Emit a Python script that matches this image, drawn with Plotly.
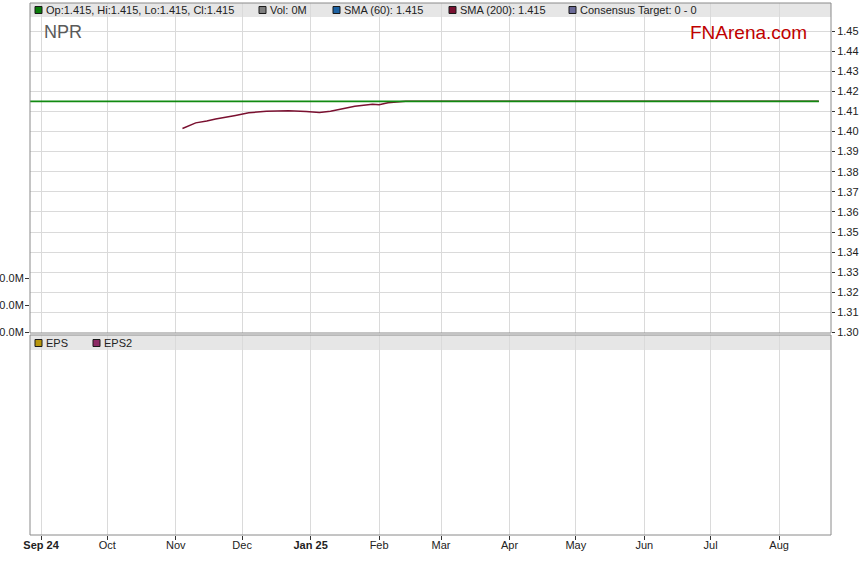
import plotly.graph_objects as go

# ---------------- data ----------------
close_dates = ["2024-08-27", "2025-08-19"]
close_values = [1.415, 1.415]

sma200_dates = ["2024-11-04", "2024-11-10", "2024-11-15", "2024-11-19", "2024-11-28",
                "2024-12-04", "2024-12-12", "2024-12-22", "2024-12-30", "2025-01-05",
                "2025-01-10", "2025-01-15", "2025-01-21", "2025-01-29", "2025-02-01",
                "2025-02-05", "2025-02-13", "2025-08-19"]
sma200_values = [1.4015, 1.4043, 1.4052, 1.4062, 1.4080,
                 1.4093, 1.4101, 1.4103, 1.4100, 1.4095,
                 1.4101, 1.4111, 1.4126, 1.4135, 1.4133,
                 1.4143, 1.4150, 1.4150]

volume_dates = []
volume_values = []
eps_dates = []
eps_values = []
eps2_dates = []
eps2_values = []

month_ticks = ["2024-09-01", "2024-10-01", "2024-11-01", "2024-12-01", "2025-01-01",
               "2025-02-01", "2025-03-01", "2025-04-01", "2025-05-01", "2025-06-01",
               "2025-07-01", "2025-08-01"]
month_labels = ["<b>Sep 24</b>", "Oct", "Nov", "Dec", "<b>Jan 25</b>", "Feb", "Mar",
                "Apr", "May", "Jun", "Jul", "Aug"]

price_ticks = [1.30, 1.31, 1.32, 1.33, 1.34, 1.35, 1.36, 1.37, 1.38, 1.39,
               1.40, 1.41, 1.42, 1.43, 1.44, 1.45]
volume_ticks = [0, 50e6, 100e6]
volume_labels = ["0.0M", "50.0M", "100.0M"]

legend_top = [("Op:1.415, Hi:1.415, Lo:1.415, Cl:1.415", "#0b7d0b", 35),
              ("Vol: 0M", "#7f7f7f", 259),
              ("SMA (60): 1.415", "#1d62a3", 333),
              ("SMA (200): 1.415", "#7a1030", 449),
              ("Consensus Target: 0 - 0", "#6a6a98", 569)]
legend_bottom = [("EPS", "#b8960c", 35), ("EPS2", "#8c2a64", 93)]

# ---------------- geometry helpers ----------------
W, H = 859, 566
L, R, T, B = 30, 28, 3, 31
PW = W - L - R
PH = H - T - B


def px(x):
    return (x - L) / PW


def py(y):
    return (H - B - y) / PH


top_dom = [py(333), 1.0]
bot_dom = [0.0, py(335)]

FONT = "Liberation Sans, Arial, sans-serif"
GRID = "#dadada"
BORDER = "#8a8a8a"

fig = go.Figure()

fig.add_trace(go.Bar(x=volume_dates, y=volume_values, marker_color="#7f7f7f",
                     xaxis="x", yaxis="y3", hoverinfo="skip"))
fig.add_trace(go.Scatter(x=sma200_dates, y=sma200_values, mode="lines",
                         line=dict(color="#7a1030", width=1.5), xaxis="x", yaxis="y",
                         hoverinfo="skip"))
fig.add_trace(go.Scatter(x=close_dates, y=close_values, mode="lines",
                         line=dict(color="#118a11", width=1.6), xaxis="x", yaxis="y",
                         hoverinfo="skip"))
fig.add_trace(go.Scatter(x=eps_dates, y=eps_values, mode="lines",
                         line=dict(color="#b8960c"), xaxis="x2", yaxis="y2"))
fig.add_trace(go.Scatter(x=eps2_dates, y=eps2_values, mode="lines",
                         line=dict(color="#8c2a64"), xaxis="x2", yaxis="y2"))

xrange = ["2024-08-27 00:00", "2025-08-24 12:00"]

shapes = []
annotations = []

# legend strips
shapes.append(dict(type="rect", xref="paper", yref="paper", x0=0, x1=1, y0=py(17), y1=py(3),
                   fillcolor="#e6e6e6", line=dict(width=0), layer="below"))
shapes.append(dict(type="rect", xref="paper", yref="paper", x0=0, x1=1, y0=py(350), y1=py(335),
                   fillcolor="#e6e6e6", line=dict(width=0), layer="below"))
# borders
shapes.append(dict(type="rect", xref="paper", yref="paper", x0=0, x1=1, y0=py(333), y1=py(3),
                   line=dict(color=BORDER, width=1), fillcolor="rgba(0,0,0,0)", layer="above"))
shapes.append(dict(type="rect", xref="paper", yref="paper", x0=0, x1=1, y0=py(535), y1=py(335),
                   line=dict(color=BORDER, width=1), fillcolor="rgba(0,0,0,0)", layer="above"))


def legend_items(items, yc):
    for text, color, x0 in items:
        shapes.append(dict(type="rect", xref="paper", yref="paper",
                           x0=px(x0), x1=px(x0 + 7), y0=py(yc + 3.5), y1=py(yc - 3.5),
                           fillcolor=color, line=dict(color="#1a1a1a", width=1), layer="above"))
        annotations.append(dict(text=text, xref="paper", yref="paper", x=px(x0 + 9), y=py(yc),
                                xanchor="left", yanchor="middle", showarrow=False,
                                font=dict(family=FONT, size=11, color="#222222")))


legend_items(legend_top, 10)
legend_items(legend_bottom, 343)

annotations.append(dict(text="NPR", xref="paper", yref="paper", x=px(42), y=py(32),
                        xanchor="left", yanchor="middle", showarrow=False,
                        font=dict(family=FONT, size=18, color="#5a5a5a")))
annotations.append(dict(text="FNArena.com", xref="paper", yref="paper", x=px(809), y=py(32),
                        xanchor="right", yanchor="middle", showarrow=False,
                        font=dict(family=FONT, size=19, color="#c00000")))

price_range = [1.30 - 0.5 / 2010, 1.45 + 28 / 2010]
vol_range = [-0.5 / 27 * 50e6, 329 / 27 * 50e6]

fig.update_layout(
    width=W, height=H,
    margin=dict(l=L, r=R, t=T, b=B, pad=0, autoexpand=False),
    paper_bgcolor="white", plot_bgcolor="white",
    showlegend=False, hovermode=False,
    font=dict(family=FONT, size=11, color="#222222"),
    xaxis=dict(type="date", range=xrange, domain=[0, 1], anchor="y",
               tickvals=month_ticks, showticklabels=False, ticks="",
               showgrid=True, gridcolor=GRID, gridwidth=1, showline=False, zeroline=False,
               automargin=False),
    yaxis=dict(domain=top_dom, range=price_range, side="right", anchor="x",
               tickvals=price_ticks, tickformat=".2f", ticks="outside", ticklen=3,
               tickcolor="#333333", showgrid=True, gridcolor=GRID, gridwidth=1,
               zeroline=False, showline=False, tickfont=dict(size=11, color="#222222"),
               automargin=False),
    yaxis3=dict(overlaying="y", range=vol_range, side="left", anchor="x",
                tickvals=volume_ticks, ticktext=volume_labels, ticks="outside", ticklen=4,
                tickcolor="#333333", showgrid=False, zeroline=False, showline=False,
                tickfont=dict(size=11, color="#222222"), ticklabelstandoff=-1,
                automargin=False),
    xaxis2=dict(type="date", range=xrange, domain=[0, 1], anchor="y2", matches="x",
                tickvals=month_ticks, ticktext=month_labels, ticks="outside", ticklen=4,
                tickcolor="#333333", showgrid=True, gridcolor=GRID, gridwidth=1,
                showline=False, zeroline=False, tickfont=dict(size=11, color="#222222"),
                ticklabelstandoff=-4, automargin=False),
    yaxis2=dict(domain=bot_dom, range=[0, 1], anchor="x2", showticklabels=False,
                ticks="", showgrid=False, zeroline=False, showline=False, automargin=False),
    shapes=shapes,
    annotations=annotations,
)

fig.write_html("out.html", config={"displayModeBar": False},
               post_script="document.body.style.margin='0';document.body.style.padding='0';")
